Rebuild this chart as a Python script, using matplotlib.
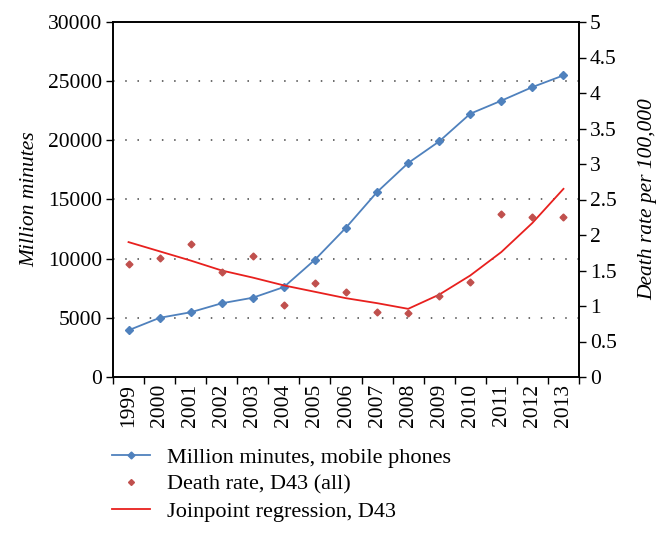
import numpy as np
import matplotlib.pyplot as plt
from matplotlib.lines import Line2D

plt.rcParams['font.family'] = ['Liberation Serif', 'DejaVu Serif']

# dati
anni = ['1999', '2000', '2001', '2002', '2003', '2004', '2005', '2006',
        '2007', '2008', '2009', '2010', '2011', '2012', '2013']
minuti = [3950, 5000, 5470, 6230, 6700, 7600, 9910, 12620,
          15630, 18080, 19910, 22250, 23350, 24500, 25490]
mortalita = [1.59, 1.68, 1.88, 1.48, 1.70, 1.02, 1.33, 1.20,
             0.92, 0.90, 1.14, 1.34, 2.29, 2.26, 2.26]
joinpoint = [1.90, 1.77, 1.64, 1.50, 1.40, 1.29, 1.20, 1.11,
             1.04, 0.96, 1.16, 1.43, 1.76, 2.17, 2.65]

blu = '#4F81BD'
rosso_punti = '#C0504D'
rosso_linea = '#E8201E'

x = np.arange(len(anni))

fig = plt.figure(figsize=(6.65, 5.34), dpi=100)
ax = fig.add_axes([113 / 665, 1 - 377 / 534, 466 / 665, 355 / 534])
ax2 = ax.twinx()

ax.plot(x, minuti, color=blu, lw=1.3, marker='D', ms=4, zorder=3)
ax2.plot(x, mortalita, ls='none', marker='D', ms=3.5, color=rosso_punti, zorder=3)
ax2.plot(x, joinpoint, color=rosso_linea, lw=1.3, zorder=2)

ax.set_xlim(-0.5, len(anni) - 0.5)
ax.set_ylim(0, 30000)
ax2.set_ylim(0, 5)
ax.set_yticks(np.arange(0, 30001, 5000))
ax2.set_yticks(np.arange(0, 5.01, 0.5))
ax2.set_yticklabels(['0', '0.5', '1', '1.5', '2', '2.5', '3', '3.5', '4', '4.5', '5'])

# griglia tratteggiata
for yv in range(5000, 30000, 5000):
    ax.axhline(yv, color='#444444', lw=1.1, ls=(0, (1, 7)), zorder=1)

ax.set_xticks(x)
ax.set_xticklabels(anni, rotation=90)
ax.set_xticks(np.arange(-0.5, len(anni), 1), minor=True)
ax.tick_params(axis='x', which='major', length=0, labelsize=15.5, pad=5)
ax.tick_params(axis='x', which='minor', length=5, direction='out', width=1)
ax.tick_params(axis='y', length=5, width=1, labelsize=15.5, pad=3)
ax2.tick_params(axis='y', length=5, width=1, labelsize=15.5, pad=3)

for a in (ax, ax2):
    for s in a.spines.values():
        s.set_linewidth(1.2)

ax.set_ylabel('Million minutes', fontsize=15.5, style='italic', labelpad=6)
ax2.set_ylabel('Death rate per 100,000', fontsize=15.5, style='italic', labelpad=15)

handles = [
    Line2D([], [], color=blu, lw=1.3, marker='D', ms=3.5),
    Line2D([], [], ls='none', marker='D', ms=3, color=rosso_punti),
    Line2D([], [], color=rosso_linea, lw=1.3),
]
labels = ['Million minutes, mobile phones', 'Death rate, D43 (all)',
          'Joinpoint regression, D43']
fig.legend(handles, labels, loc='upper left', bbox_to_anchor=(101 / 665, 1 - 436 / 534),
           frameon=False, fontsize=16, handlelength=1.7, handletextpad=0.75,
           labelspacing=0.3, borderpad=0)

fig.savefig('out.png', dpi=100)
